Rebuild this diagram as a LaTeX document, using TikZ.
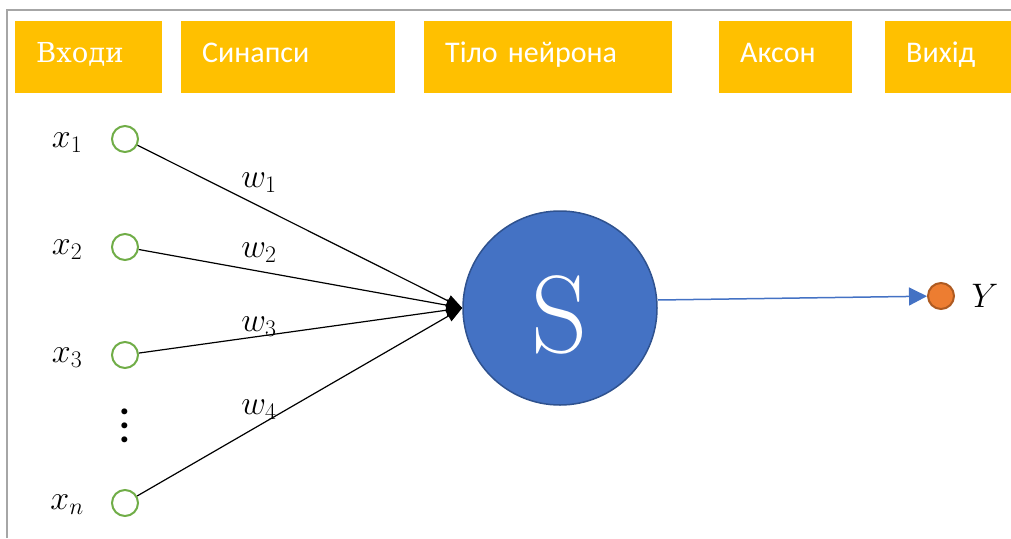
\RequirePackage{fix-cm}
\documentclass[tikz,border=0pt]{standalone}
\usepackage{fontspec}
\setmainfont{DejaVu Serif}
\setsansfont{Carlito}
\newfontfamily\lmroman{Latin Modern Roman}
\usetikzlibrary{arrows.meta}
\definecolor{headgold}{HTML}{FFC000}
\definecolor{inputgreen}{HTML}{70AD47}
\definecolor{somablue}{HTML}{4472C4}
\definecolor{somaedge}{HTML}{2F528F}
\definecolor{outorange}{HTML}{ED7D31}
\definecolor{outedge}{HTML}{AE5A21}
\begin{document}
\begin{tikzpicture}[x=1pt,y=-1pt,
    header/.style={fill=headgold,text=white,anchor=north west,minimum height=72pt,
      inner xsep=21pt,inner ysep=0pt,text height=20pt,text depth=10pt,align=left,
      font=\sffamily\fontsize{30}{36}\selectfont},
    inp/.style={circle,draw=inputgreen,line width=2pt,fill=white,minimum size=26pt,inner sep=0pt},
    lbl/.style={font=\fontsize{34}{40}\selectfont},
    wlbl/.style={font=\fontsize{34}{40}\selectfont}]
  \useasboundingbox (0,0) rectangle (1011,538);
  \draw[gray!70,line width=1.2pt] (7,538) -- (7,10) -- (1011,10);
  % header row
  \draw
    (15,21) node[header,text width=105pt] (inputs){\rmfamily\fontsize{27.5}{33}\selectfont Входи}
    (181,21) node[header,text width=172pt] (synapses){Синапси}
    (424,21) node[header,text width=206pt] (body){Тіло нейрона}
    (719,21) node[header,text width=91pt] (axon){Аксон}
    (885,21) node[header,text width=88pt] (output){Вихід};
  % inputs
  \draw
    (125,139) node[inp] (x1){}
    (125,247) node[inp] (x2){}
    (125,355) node[inp] (x3){}
    (125,503) node[inp] (xn){}
    (125,426) node[align=center,inner sep=0pt,font=\sffamily\bfseries\fontsize{40}{14}\selectfont] (dots){.\\.\\.}
    (67,143) node[lbl] (lx1){$x_1$}
    (67,250) node[lbl] (lx2){$x_2$}
    (67,358) node[lbl] (lx3){$x_3$}
    (67,505) node[lbl] (lxn){$x_n$};
  % weights
  \draw
    (259,183) node[wlbl] (w1){$w_1$}
    (259,253) node[wlbl] (w2){$w_2$}
    (259,327) node[wlbl] (w3){$w_3$}
    (259,410) node[wlbl] (w4){$w_4$};
  % soma and output
  \draw
    (560,308) node[circle,fill=somablue,draw=somaedge,line width=1.5pt,minimum size=194pt,
      inner sep=0pt,text=white,text height=88pt,text depth=0pt,
      font=\lmroman\fontsize{110}{110}\selectfont] (soma){S}
    (941,296) node[circle,fill=outorange,draw=outedge,line width=2pt,minimum size=26pt,inner sep=0pt] (out){}
    (985,296) node[lbl] (ly){$Y$};
  \begin{scope}[line width=1.2pt,-{Triangle[length=16pt,width=12pt]}]
    \draw (x1) to (soma.west);
    \draw (x2) to (soma.west);
    \draw (x3) to (soma.west);
    \draw (xn) to (soma.west);
  \end{scope}
  \draw[somablue,line width=1.5pt,-{Triangle[length=18pt,width=18pt]}] ([yshift=8pt]soma.east) to (out);
\end{tikzpicture}
\end{document}
